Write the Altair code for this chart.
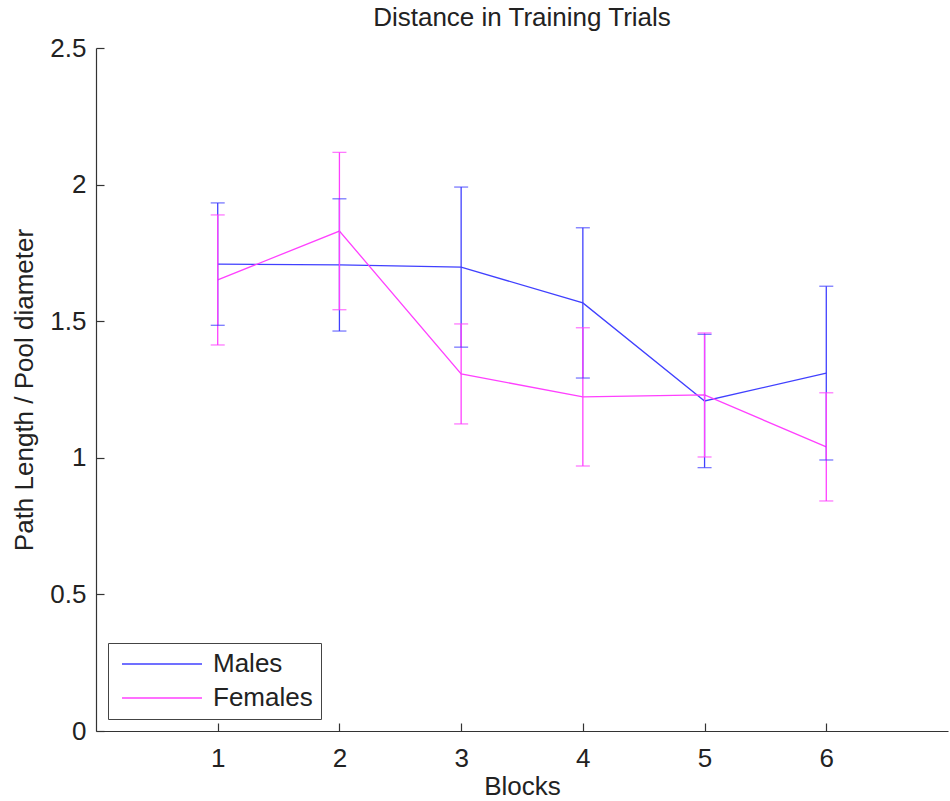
import altair as alt
import pandas as pd

# Block numbers and per-group mean path length (normalised by pool diameter) with error half-widths
blocks = [1, 2, 3, 4, 5, 6]
male_mean = [1.709, 1.706, 1.698, 1.567, 1.208, 1.310]
male_err = [0.224, 0.242, 0.293, 0.275, 0.244, 0.318]
female_mean = [1.651, 1.830, 1.307, 1.223, 1.230, 1.040]
female_err = [0.238, 0.288, 0.183, 0.253, 0.227, 0.198]

groups = ["Males", "Females"]
colors = ["#4040ff", "#ff40ff"]
y_ticks = [0, 0.5, 1, 1.5, 2, 2.5]

rows = []
for name, means, errs in [("Males", male_mean, male_err), ("Females", female_mean, female_err)]:
    for b, m, e in zip(blocks, means, errs):
        rows.append({"block": b, "mean": m, "lo": m - e, "hi": m + e, "group": name})
df = pd.DataFrame(rows)

FONT = "Liberation Sans"
W, H = 852, 683

xscale = alt.Scale(domain=[0, 7], nice=False, zero=False)
yscale = alt.Scale(domain=[0, 2.5], nice=False)
color = alt.Color(
    "group:N",
    scale=alt.Scale(domain=groups, range=colors),
    legend=alt.Legend(
        orient="none", legendX=12, legendY=595, title=None,
        # 80px horizontal line sample drawn with a unit-size symbol
        symbolType="M-40,0H40", symbolSize=4, symbolStrokeWidth=1.3,
        symbolOffset=33, labelOffset=38, rowPadding=8,
        labelFontSize=26, labelFont=FONT, labelColor="#222",
        strokeColor="#444", fillColor="white", padding=8,
    ),
)

base = alt.Chart(df)

# main lines with labelled axes
lines = base.mark_line(strokeWidth=1.3).encode(
    x=alt.X("block:Q", scale=xscale,
            axis=alt.Axis(values=blocks, tickSize=0, labelPadding=14, title="Blocks",
                          titlePadding=2)),
    y=alt.Y("mean:Q", scale=yscale,
            axis=alt.Axis(values=y_ticks, format="~g", tickSize=0, labelPadding=10,
                          title="Path Length / Pool diameter", titlePadding=12)),
    color=color,
    order="block:Q",
)

# vertical error bars; this layer also carries the inward-pointing tick marks
bars = base.mark_rule(strokeWidth=1.3).encode(
    x=alt.X("block:Q", scale=xscale,
            axis=alt.Axis(orient="top", offset=-H, values=blocks, labels=False,
                          domain=False, tickSize=8, title=None)),
    y=alt.Y("lo:Q", scale=yscale,
            axis=alt.Axis(orient="right", offset=-W, values=y_ticks, labels=False,
                          domain=False, tickSize=8, title=None)),
    y2="hi:Q",
    color=alt.Color("group:N", scale=alt.Scale(domain=groups, range=colors), legend=None),
)

caps_lo = base.mark_tick(orient="horizontal", size=14, thickness=1.3).encode(
    x=alt.X("block:Q", scale=xscale, axis=None),
    y=alt.Y("lo:Q", scale=yscale, axis=None),
    color=alt.Color("group:N", scale=alt.Scale(domain=groups, range=colors), legend=None),
)
caps_hi = base.mark_tick(orient="horizontal", size=14, thickness=1.3).encode(
    x=alt.X("block:Q", scale=xscale, axis=None),
    y=alt.Y("hi:Q", scale=yscale, axis=None),
    color=alt.Color("group:N", scale=alt.Scale(domain=groups, range=colors), legend=None),
)

chart = (
    alt.layer(lines, bars, caps_lo, caps_hi)
    .resolve_axis(x="independent", y="independent")
    .properties(
        width=W, height=H,
        autosize="none",
        padding={"left": 96, "top": 48, "right": 2, "bottom": 70},
        title=alt.TitleParams("Distance in Training Trials", fontSize=26, font=FONT,
                              fontWeight="normal", color="#222", anchor="middle",
                              baseline="alphabetic", offset=-17),
    )
    .configure_view(stroke=None)
    .configure_axis(
        domainColor="#333", tickColor="#333", domainWidth=1.2, tickWidth=1.2,
        labelFont=FONT, labelFontSize=26, labelColor="#222",
        titleFont=FONT, titleFontSize=26, titleFontWeight="normal", titleColor="#222",
        grid=False,
    )
)

chart.save("out.html", embed_options={"renderer": "svg", "actions": False})
